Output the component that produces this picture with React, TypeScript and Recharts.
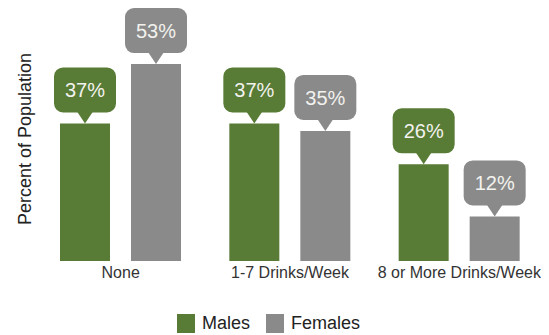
import React from "react"
import { BarChart, Bar, XAxis, YAxis, LabelList } from "recharts"

const categories = ["None", "1-7 Drinks/Week", "8 or More Drinks/Week"]
const males = [37, 37, 26]
const females = [53, 35, 12]

const GREEN = "#587b35"
const GRAY = "#8a8a8a"
const FONT = "'Liberation Sans', Arial, sans-serif"

const data = categories.map((c, i) => ({ name: c, males: males[i], females: females[i] }))

// speech-bubble label sitting on top of each bar
function bubble(color: string) {
  return (props: any) => {
    const { x, y, width, value } = props
    const cx = x + width / 2
    const w = 62
    const h = 45
    const tail = 11
    const bottom = y - tail
    const top = bottom - h
    return (
      <g>
        <rect x={cx - w / 2} y={top} width={w} height={h} rx={9} ry={9} fill={color} />
        <path d={`M${cx - 8},${bottom - 1} L${cx + 8},${bottom - 1} L${cx},${y} Z`} fill={color} />
        <text
          x={cx}
          y={top + h / 2}
          dy="0.36em"
          textAnchor="middle"
          fill="#f2f2ee"
          fontSize={20}
          fontFamily={FONT}
        >
          {value}%
        </text>
      </g>
    )
  }
}

function LegendBox() {
  const items = [
    { label: "Males", color: GREEN },
    { label: "Females", color: GRAY },
  ]
  return (
    <div
      style={{
        position: "absolute",
        top: 305,
        left: 0,
        width: 541,
        display: "flex",
        justifyContent: "center",
        paddingRight: 4,
        boxSizing: "border-box",
        fontFamily: FONT,
      }}
    >
      {items.map((it) => (
        <div key={it.label} style={{ display: "flex", alignItems: "center", marginRight: 16 }}>
          <span style={{ width: 18, height: 19, background: it.color, display: "inline-block", marginRight: 7 }} />
          <span style={{ fontSize: 18, color: "#222" }}>{it.label}</span>
        </div>
      ))}
    </div>
  )
}

function YLabel() {
  return (
    <text
      x={17}
      y={131}
      transform="rotate(-90, 17, 131)"
      textAnchor="middle"
      dominantBaseline="central"
      fontSize={18}
      fill="#222"
      fontFamily={FONT}
    >
      Percent of Population
    </text>
  )
}

export default function App() {
  return (
    <div style={{ position: "relative", width: 541, height: 327, background: "#fff" }}>
      <BarChart
        width={541}
        height={327}
        data={data}
        margin={{ top: 30, right: 5, left: 0, bottom: 44 }}
        barSize={50}
        barGap={21}
      >
        <XAxis
          dataKey="name"
          axisLine={false}
          tickLine={false}
          tickMargin={0}
          interval={0}
          height={30}
          tick={{ fontSize: 16, fill: "#333", fontFamily: FONT }}
        />
        <YAxis
          width={28}
          domain={[0, 60]}
          tick={false}
          axisLine={false}
          tickLine={false}
          label={<YLabel />}
        />
        <Bar dataKey="males" name="Males" fill={GREEN} isAnimationActive={false}>
          <LabelList dataKey="males" content={bubble(GREEN)} />
        </Bar>
        <Bar dataKey="females" name="Females" fill={GRAY} isAnimationActive={false}>
          <LabelList dataKey="females" content={bubble(GRAY)} />
        </Bar>
      </BarChart>
      <LegendBox />
    </div>
  )
}
